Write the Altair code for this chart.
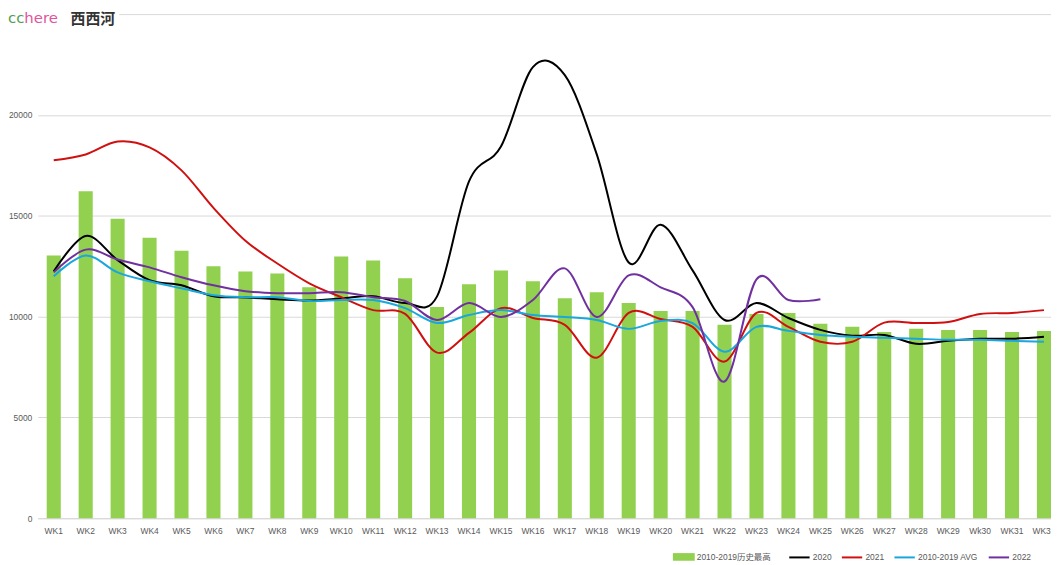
import altair as alt
import pandas as pd

weeks = ["WK1", "WK2", "WK3", "WK4", "WK5", "WK6", "WK7", "WK8", "WK9", "WK10",
         "WK11", "WK12", "WK13", "WK14", "WK15", "WK16", "WK17", "WK18", "WK19", "WK20",
         "WK21", "WK22", "WK23", "WK24", "WK25", "WK26", "WK27", "WK28", "WK29", "Wk30",
         "WK31", "WK32"]
hist_max = [13030, 16220, 14850, 13910, 13270, 12490, 12240, 12140, 11450, 12980,
            12780, 11900, 10470, 11600, 12290, 11750, 10910, 11210, 10670, 10270,
            10270, 9590, 10130, 10180, 9640, 9490, 9240, 9390, 9340, 9340, 9240, 9290]
s2020 = [12240, 14000, 12800, 11800, 11550, 11010, 10950, 10860, 10800, 10900,
         11010, 10670, 11000, 16700, 18430, 22370, 21970, 18040, 12680, 14550,
         12290, 9830, 10670, 9930, 9340, 9050, 9090, 8650, 8800, 8900, 8900, 9000]
s2021 = [17750, 18040, 18680, 18390, 17250, 15390, 13760, 12630, 11650, 10960,
         10320, 10130, 8210, 9190, 10420, 9930, 9590, 7960, 10180, 9880,
         9490, 7770, 10180, 9490, 8750, 8750, 9700, 9680, 9730, 10130, 10180, 10320]
avg = [12000, 13030, 12190, 11750, 11400, 11060, 10960, 10960, 10770, 10820,
       10820, 10420, 9680, 10080, 10320, 10080, 9980, 9830, 9390, 9780,
       9680, 8260, 9490, 9290, 9090, 9000, 8950, 8900, 8850, 8850, 8800, 8750]
s2022 = [12190, 13320, 12830, 12440, 11950, 11550, 11260, 11160, 11160, 11210,
         10960, 10770, 9830, 10670, 9980, 10820, 12390, 9980, 12040, 11450,
         10470, 6780, 11850, 10820, 10860]

bar_name = "2010-2019历史最高"
line_names = ["2020", "2021", "2010-2019 AVG", "2022"]
line_values = [s2020, s2021, avg, s2022]
line_colors = ["#000000", "#D01010", "#1AA7DD", "#7030A0"]
bar_color = "#92D050"

bar_df = pd.DataFrame({"week": weeks, "value": hist_max, "series": bar_name})
rows = []
for name, vals in zip(line_names, line_values):
    for w, v in zip(weeks, vals):
        rows.append({"week": w, "value": v, "series": name})
line_df = pd.DataFrame(rows)

FONT = "Liberation Sans, Noto Sans CJK SC"

x_enc = alt.X(
    "week:N", sort=weeks, title=None,
    scale=alt.Scale(domain=weeks, range=[0, 1030], paddingInner=0.56, paddingOuter=0.28),
    axis=alt.Axis(labelAngle=0, labelFontSize=8.5, labelColor="#595959", labelFont=FONT,
                  ticks=False, domainColor="#d9d9d9", labelPadding=8, grid=False),
)
y_enc = alt.Y(
    "value:Q", title=None,
    scale=alt.Scale(domain=[0, 25000], nice=False),
    axis=alt.Axis(values=[0, 5000, 10000, 15000, 20000, 25000],
                  labelExpr="datum.value >= 25000 ? '' : datum.label",
                  format="d", labelFontSize=8.5, labelColor="#595959", labelFont=FONT,
                  ticks=False, domain=False, gridColor="#d9d9d9", labelPadding=6),
)

bars = alt.Chart(bar_df).mark_bar().encode(
    x=x_enc, y=y_enc,
    color=alt.Color("series:N", scale=alt.Scale(domain=[bar_name], range=[bar_color]),
                    legend=alt.Legend(orient="none", legendX=640, legendY=536, title=None,
                                      symbolType="M-1,-0.35H1V0.35H-1Z", symbolSize=484,
                                      symbolStrokeWidth=0,
                                      labelFontSize=8.5, labelColor="#595959", labelFont=FONT,
                                      labelOffset=2)),
)

stroke_enc = alt.Stroke(
    "series:N",
    scale=alt.Scale(domain=line_names, range=line_colors),
    legend=alt.Legend(orient="none", legendX=756, legendY=536,
                      direction="horizontal", title=None,
                      symbolType="stroke", symbolSize=420,
                      symbolStrokeWidth=2,
                      labelFontSize=8.5, labelColor="#595959",
                      labelFont=FONT, labelOffset=2,
                      columnPadding=6),
)

line_layers = []
for name in line_names:
    line_layers.append(
        alt.Chart(line_df).transform_filter(alt.datum.series == name)
        .mark_line(interpolate="cardinal", strokeWidth=2)
        .encode(x=alt.X("week:N", sort=weeks), y="value:Q", stroke=stroke_enc)
    )

mask = alt.Chart(bar_df).mark_rect(color="white").encode(
    x=alt.value(-30), x2=alt.value(82), y=alt.value(-6), y2=alt.value(13)
).transform_filter(alt.datum.week == "WK1")

logo_cc = alt.Chart(bar_df).mark_text(
    text="cc", font="DejaVu Sans", fontSize=15, color="#4f9e4f", align="left", baseline="alphabetic"
).encode(x=alt.value(-30), y=alt.value(9)).transform_filter(alt.datum.week == "WK1")
logo_here = alt.Chart(bar_df).mark_text(
    text="here", font="DejaVu Sans", fontSize=15, color="#e0559c", align="left", baseline="alphabetic"
).encode(x=alt.value(-13.5), y=alt.value(9)).transform_filter(alt.datum.week == "WK1")
logo_cn = alt.Chart(bar_df).mark_text(
    text="西西河", font="Noto Sans CJK SC", fontSize=15, color="#333333", align="left",
    baseline="alphabetic", fontWeight="bold"
).encode(x=alt.value(33), y=alt.value(10)).transform_filter(alt.datum.week == "WK1")

chart = alt.layer(bars, *line_layers, mask, logo_cc, logo_here, logo_cn).properties(
    width=1021, height=508,
    autosize=alt.AutoSizeParams(type="none"),
    padding={"left": 30, "top": 4, "right": 0, "bottom": 45},
).configure_view(stroke=None)

chart.save("out.html", embed_options={"renderer": "svg", "actions": False})
